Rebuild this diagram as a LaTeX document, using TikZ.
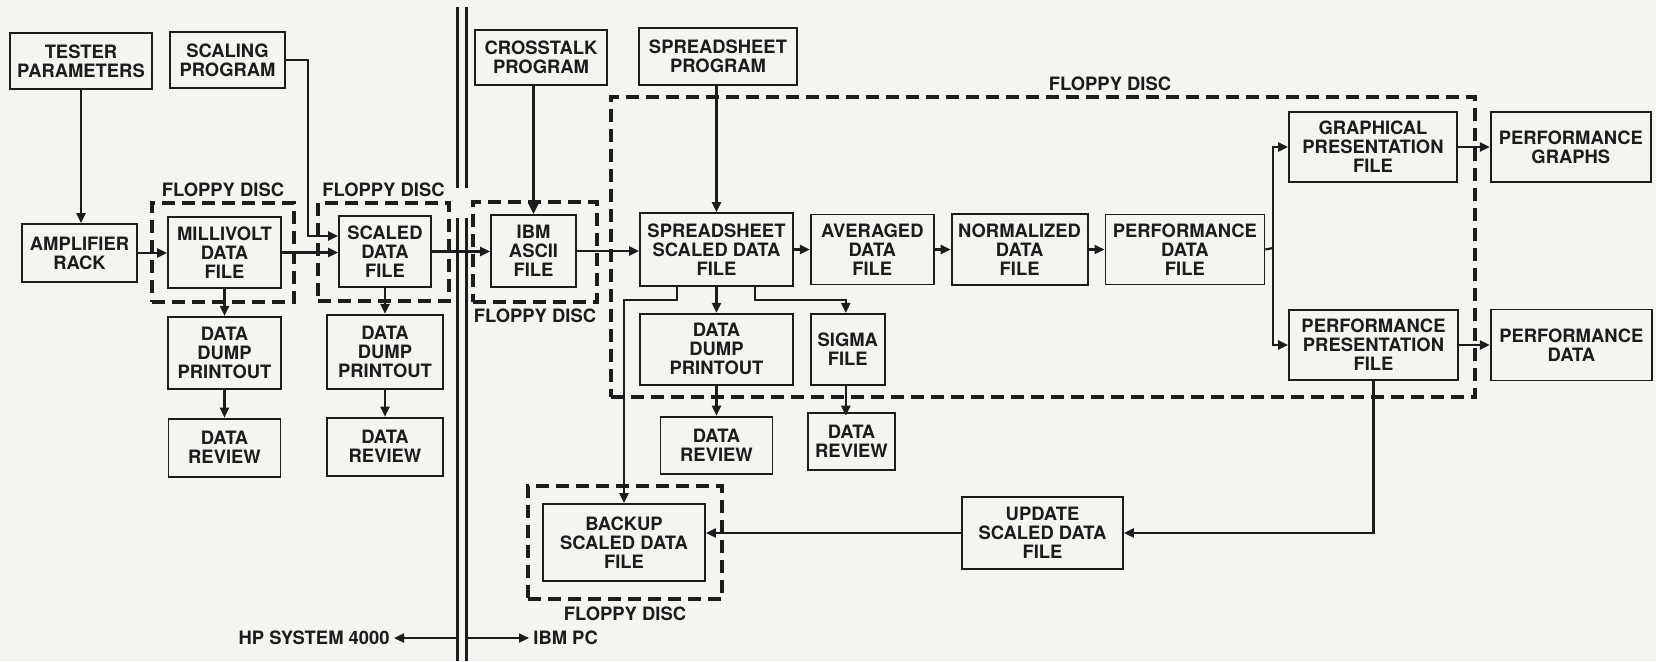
\documentclass[tikz,border=0pt]{standalone}
\usepackage{fontspec}
\setmainfont{TeX Gyre Heros}
\usepackage{tikz}
\usetikzlibrary{positioning}
\usetikzlibrary{arrows.meta}
\usetikzlibrary{calc}
\usetikzlibrary{fit}

\definecolor{ink}{HTML}{1C1C1C}
\definecolor{paper}{HTML}{F4F4F1}

\begin{document}
\begin{tikzpicture}
		[x=0.5pt, y=-0.5pt,
		>={Triangle[length=5pt,width=4.5pt]},
		block/.style 2 args={draw=ink, line width=0.9pt, align=center, inner sep=0pt,
			minimum width=#1pt, minimum height=#2pt, text=ink,
			font=\fontsize{9.2}{9.5}\selectfont\bfseries},
		floppy/.style={draw=ink, line width=1.6pt, dash pattern=on 6.5pt off 3.5pt, inner sep=0pt},
		tag/.style={text=ink, inner sep=0pt, font=\fontsize{9.2}{9.5}\selectfont\bfseries},
		link/.style={draw=ink, line width=1.1pt},
		wall/.style={draw=ink, line width=1.5pt}]
		\fill[paper] (0,0) rectangle (1656,661);
		\useasboundingbox (0,0) rectangle (1656,661);

		% floppy disc regions
		\node[floppy, fit={(152,203) (294,302)}] (fd1) {};
		\node[tag, above=2pt of fd1] (fd1tag) {FLOPPY DISC};
		\node[floppy, fit={(318,203) (449,301)}] (fd2) {};
		\node[tag, above=2pt of fd2] (fd2tag) {FLOPPY DISC};
		\node[floppy, fit={(473,202) (597,302)}] (fd3) {};
		\node[tag, below=2.5pt of fd3] (fd3tag) {FLOPPY DISC};
		\node[floppy, fit={(611,97) (1475,397)}] (fdmain) {};
		\node[tag, anchor=south] (fdmaintag) at ($(fdmain.north)+(67,-4)$) {FLOPPY DISC};
		\node[floppy, fit={(528,486) (722,599)}] (fd4) {};
		\node[tag, below=3pt of fd4] (fd4tag) {FLOPPY DISC};

		% HP side
		\node[block={71}{28}] (tester) at (81,61) {TESTER\\PARAMETERS};
		\node[block={57.5}{28}] (scaling) at (227.5,60) {SCALING\\PROGRAM};
		\node[block={57.5}{29}] (amp) at (79.5,253) {AMPLIFIER\\RACK};
		\node[block={56.5}{35.5}] (millivolt) at (224.5,252.5) {MILLIVOLT\\DATA\\FILE};
		\node[block={46}{35.5}] (scaled) at (385,251.5) {SCALED\\DATA\\FILE};
		\node[block={56.5}{36}, below=13.5pt of millivolt] (dump1) {DATA\\DUMP\\PRINTOUT};
		\node[block={56}{29}, below=14pt of dump1] (review1) {DATA\\REVIEW};
		\node[block={58}{37}, below=13pt of scaled] (dump2) {DATA\\DUMP\\PRINTOUT};
		\node[block={58}{29}, below=13.5pt of dump2] (review2) {DATA\\REVIEW};

		% IBM side
		\node[block={66}{27.5}] (crosstalk) at (541,57.5) {CROSSTALK\\PROGRAM};
		\node[block={79}{28.5}] (sprog) at (718,56.5) {SPREADSHEET\\PROGRAM};
		\node[block={42.5}{36}] (ascii) at (533.5,251) {IBM\\ASCII\\FILE};
		\node[block={76.5}{36.5}] (sheet) at (716.5,249.5) {SPREADSHEET\\SCALED DATA\\FILE};
		\node[block={61.5}{35}, right=8pt of sheet] (averaged) {AVERAGED\\DATA\\FILE};
		\node[block={68}{35.5}, right=8pt of averaged] (normalized) {NORMALIZED\\DATA\\FILE};
		\node[block={79.5}{35}, right=8pt of normalized] (perffile) {PERFORMANCE\\DATA\\FILE};
		\node[block={84}{35}] (graphpres) at (1373,147) {GRAPHICAL\\PRESENTATION\\FILE};
		\node[block={84.5}{35}] (perfpres) at (1373.5,345) {PERFORMANCE\\PRESENTATION\\FILE};
		\node[block={80}{35}, right=16pt of graphpres] (graphs) {PERFORMANCE\\GRAPHS};
		\node[block={80.5}{35.5}, right=15.5pt of perfpres] (perfdata) {PERFORMANCE\\DATA};
		\node[block={76.5}{35.5}, below=13pt of sheet] (dump3) {DATA\\DUMP\\PRINTOUT};
		\node[block={37}{35.5}, right=8pt of dump3] (sigma) {SIGMA\\FILE};
		\node[block={56}{28.5}, below=15pt of dump3] (review3) {DATA\\REVIEW};
		\node[block={43.5}{28.5}] (review4) at (851.5,441.5) {DATA\\REVIEW};
		\node[block={81}{38.5}] (backup) at (624,542.5) {BACKUP\\SCALED DATA\\FILE};
		\node[block={80.5}{36}] (update) at (1042.5,533) {UPDATE\\SCALED DATA\\FILE};

		% system boundary
		\draw[wall] (457,7) -- (457,188) (457,218) -- (457,661);
		\draw[wall] (466,7) -- (466,188) (466,218) -- (466,661);
		\coordinate (wallL) at (457,638);
		\coordinate (wallR) at (466,638);
		\node[tag, inner sep=2pt, anchor=east] (hp) at (394,638) {HP SYSTEM 4000};
		\node[tag, inner sep=2pt, anchor=west] (ibmpc) at (529,638) {IBM PC};
		\draw[link,->] (wallL) -- (hp.east);
		\draw[link,->] (wallR) -- (ibmpc.west);

		\coordinate (scalebend) at (308,236);
		\coordinate (split) at (1273,248);

		\draw[link,->] (tester.south) -- (tester.south |- amp.north);
		\draw[link,->] (scaling.east) -| (scalebend) -- (scalebend -| scaled.west);
		\draw[link,->] (amp.east) -- (amp.east -| millivolt.west);
		\draw[link,->] (millivolt.east) -- (millivolt.east -| scaled.west);
		\draw[link,->] (scaled.east) -- (scaled.east -| ascii.west);
		\draw[link,->] (ascii.east) -- (ascii.east -| sheet.west);
		\draw[link,->] (sheet) -- (averaged);
		\draw[link,->] (averaged) -- (normalized);
		\draw[link,->] (normalized) -- (perffile);
		\draw[link] (perffile.east) -- (split);
		\draw[link,->] (split) |- (graphpres.west);
		\draw[link,->] (split) |- (perfpres.west);
		\draw[link,->] (graphpres) -- (graphs);
		\draw[link,->] (perfpres) -- (perfdata);

		\draw[link,->] (millivolt) -- (dump1);
		\draw[link,->] (dump1) -- (review1);
		\draw[link,->] (scaled.south -| dump2.north) -- (dump2.north);
		\draw[link,->] (dump2) -- (review2);

		\draw[link,->] (crosstalk.south -| ascii.north) -- (ascii.north);
		\draw[link,->] (sprog.south -| sheet.north) -- (sheet.north);
		\draw[link,->] (sheet) -- (dump3);
		\draw[link,->] (dump3) -- (review3);
		\draw[link,->] ($(sheet.south)+(38.5,0)$) -- ++(0,13) -| ($(sigma.north)+(-2,0)$);
		\draw[link,->] ($(sigma.south)+(-2,0)$) -- ($(sigma.south)+(-2,30)$ |- review4.north);
		\draw[link,->] ($(sheet.south)+(-39.5,0)$) -- ++(0,13) -| (backup.north);
		\draw[link,->] (perfpres.south) |- (update.east);
		\draw[link,->] (update.west) -- (update.west -| backup.east);
	\end{tikzpicture}
\end{document}
